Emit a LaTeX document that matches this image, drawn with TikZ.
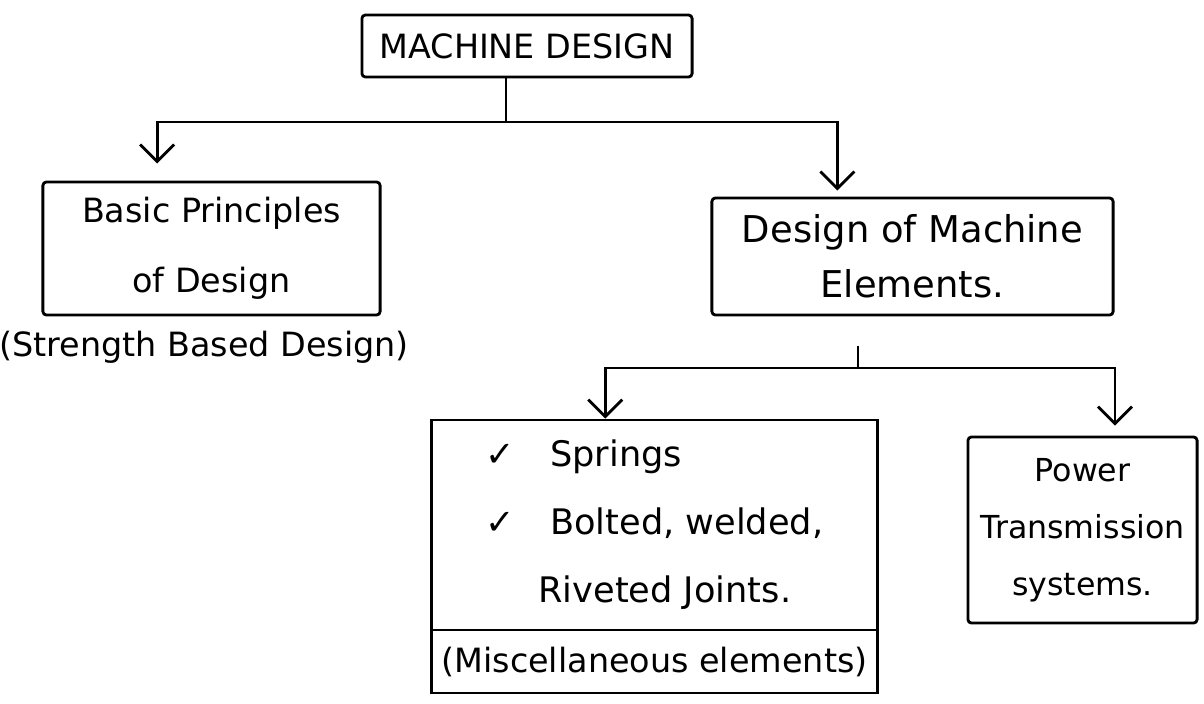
\documentclass[tikz,border=0pt]{standalone}
\usepackage{fontspec}
\setmainfont{DejaVu Sans}
\usetikzlibrary{arrows.meta,calc}

\begin{document}
\begin{tikzpicture}[
    x=0.01cm, y=-0.01cm,
    box/.style={draw, thick, rounded corners=1pt, inner sep=2pt, align=center},
    arr/.style={-{Straight Barb[length=1.7mm,width=3.4mm]}, thick},
    note/.style={inner sep=1pt, font=\fontsize{9.5}{11}\selectfont}
]
\useasboundingbox (0,0) rectangle (1204,703);

\node[box, minimum width=3.30cm, minimum height=0.62cm, font=\fontsize{9.5}{11}\selectfont] (md) at (527,46) {MACHINE DESIGN};

\node[box, minimum width=3.37cm, minimum height=1.33cm, font=\fontsize{9.5}{20}\selectfont] (basic) at (211.5,248.5) {Basic Principles\\of Design};
\node[note] (strength) at (204,347) {(Strength Based Design)};

\node[box, minimum width=4.01cm, minimum height=1.17cm, font=\fontsize{10.5}{15.6}\selectfont] (design) at (912.5,256.5) {Design of Machine\\Elements.};

\node[box, rounded corners=0pt, align=left, minimum width=4.45cm, minimum height=2.10cm, font=\fontsize{10}{19.3}\selectfont] (springs) at (654.5,525) {✓\quad Springs\\✓\quad Bolted, welded,\\\hspace*{15pt}Riveted Joints.};
\node[box, rounded corners=0pt, minimum width=4.45cm, minimum height=0.63cm, font=\fontsize{9.5}{11}\selectfont] (misc) at (654.5,661.5) {(Miscellaneous elements)};

\node[box, inner sep=1pt, minimum width=2.29cm, minimum height=1.86cm, font=\fontsize{9}{16.2}\selectfont] (power) at (1082.5,530) {Power\\Transmission\\systems.};

\coordinate (j1) at (506,122);
\coordinate (j2) at (858,368);

\draw[thick] (j1 |- md.south) -- (j1);
\draw[arr, shorten >=0.17cm] (j1) -| ($(basic.north west)!0.34!(basic.north east)$);
\draw[arr, shorten >=0.06cm] (j1) -| ($(design.north west)!0.314!(design.north east)$);

\draw[thick, shorten <=0.3cm] (j2 |- design.south) -- (j2);
\draw[arr] (j2) -| ($(springs.north west)!0.39!(springs.north east)$);
\draw[arr, shorten >=0.1cm] (j2) -| ($(power.north west)!0.64!(power.north east)$);
\end{tikzpicture}
\end{document}
